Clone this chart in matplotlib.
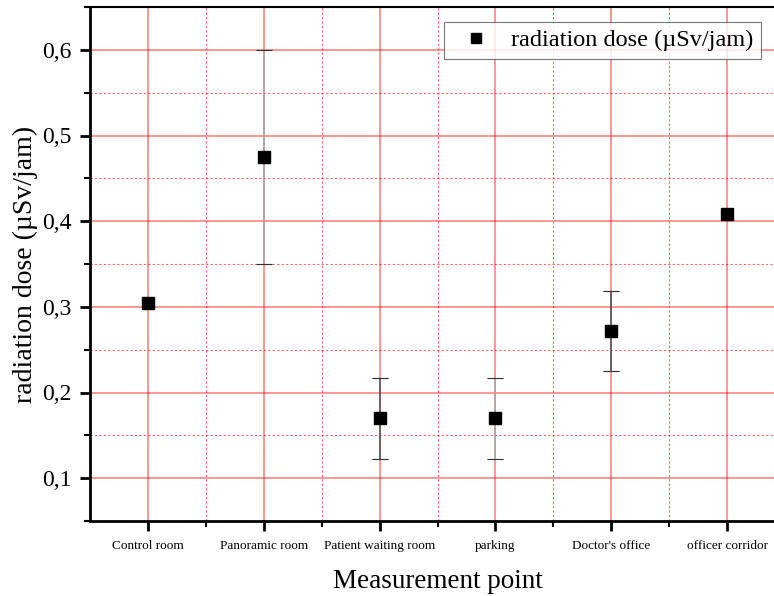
import numpy as np
import matplotlib
matplotlib.use('Agg')
import matplotlib.pyplot as plt
from matplotlib.ticker import MultipleLocator, FixedLocator, FuncFormatter

plt.rcParams['font.family'] = ['Liberation Serif', 'DejaVu Serif']

# data
points = ['Control room', 'Panoramic room', 'Patient waiting room',
          'parking', "Doctor's office", 'officer corridor']
dose = [0.305, 0.475, 0.170, 0.170, 0.272, 0.408]
err = [0.0, 0.125, 0.0475, 0.0475, 0.047, 0.0]
err_col = ['black', '#a8a8a8', '#555555', '#a8a8a8', '#555555', 'black']

fig = plt.figure(figsize=(7.74, 5.96), dpi=100)
ax = fig.add_axes([90/774, 75/596, 695/774, 514/596])

x = np.arange(1, len(points) + 1)
for i in range(len(points)):
    if err[i] > 0:
        ax.errorbar(x[i], dose[i], yerr=err[i], fmt='none', ecolor=err_col[i],
                    elinewidth=1.2, capsize=6, capthick=0.8, zorder=3)
        # caps drawn dark on top
        ax.errorbar(x[i], dose[i], yerr=err[i], fmt='none', ecolor='#333333',
                    elinewidth=0, capsize=6, capthick=0.8, zorder=3)
ax.plot(x, dose, 's', color='black', markersize=8, linestyle='none', zorder=4,
        label='radiation dose (µSv/jam)')

ax.set_xlim(0.5, 6.5)
ax.set_ylim(0.05, 0.65)
ax.set_xticks(x)
ax.set_xticklabels(points, fontsize=9.5)
ax.xaxis.set_minor_locator(FixedLocator(x[:-1] + 0.5))
ax.yaxis.set_major_locator(MultipleLocator(0.1))
ax.yaxis.set_minor_locator(MultipleLocator(0.05))
ax.yaxis.set_major_formatter(FuncFormatter(lambda v, p: ('%.1f' % v).replace('.', ',')))
ax.set_yticks(np.arange(0.1, 0.61, 0.1))
ax.tick_params(axis='y', labelsize=17)

ax.grid(which='major', color='red', alpha=0.42, linewidth=1.4)
ax.grid(which='minor', color='red', alpha=0.6, linewidth=0.8, linestyle=(0, (2, 2)))
ax.set_axisbelow(True)

ax.tick_params(which='major', direction='out', length=7, width=2, pad=6)
ax.tick_params(which='minor', direction='out', length=4, width=1.5)
ax.tick_params(axis='x', which='major', pad=7)

for s in ['left', 'bottom']:
    ax.spines[s].set_linewidth(2)
ax.spines['top'].set_linewidth(1.5)
ax.spines['right'].set_visible(False)

ax.set_xlabel('Measurement point', fontsize=19.5, labelpad=12)
ax.set_ylabel('radiation dose (µSv/jam)', fontsize=20, labelpad=3)

leg = ax.legend(loc='upper right', bbox_to_anchor=(671/695, 499/514), fontsize=17.5,
                frameon=True, fancybox=False, edgecolor='#555555', borderaxespad=0,
                handlelength=2.0, handletextpad=0.45, borderpad=0.3, markerscale=0.85)
leg.get_frame().set_linewidth(0.8)

fig.savefig('out.png', dpi=100)
